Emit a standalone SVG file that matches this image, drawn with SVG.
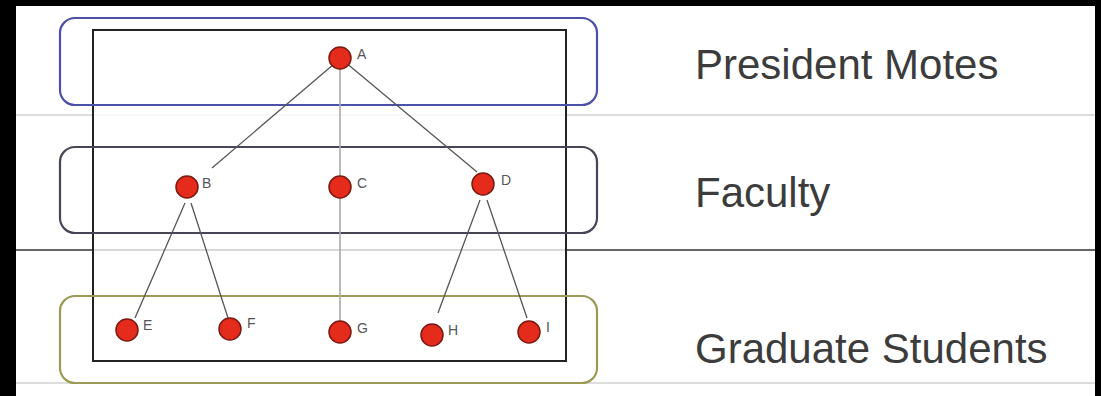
<svg xmlns="http://www.w3.org/2000/svg" width="1101" height="396" viewBox="0 0 1101 396">
<style>
.node{fill:#e52b1c;stroke:#7a1a12;stroke-width:1.5}
.lbl{font-family:"Liberation Sans",Arial,sans-serif;font-size:14px;fill:#555}
.title{font-family:"Liberation Sans",Arial,sans-serif;font-size:42px;fill:#3c3c3c}
.edge{stroke:#555;stroke-width:1.3;fill:none}
.vedge{stroke:#aaa;stroke-width:1.6;fill:none}
.band{fill:none;stroke-width:2.2}
</style>
<rect x="0" y="0" width="1101" height="396" fill="#000"/>
<rect x="16" y="6" width="1079" height="390" fill="#fff"/>
<g id="dividers">
<line x1="16" y1="115" x2="1095" y2="115" stroke="#ddd" stroke-width="2"/>
<line x1="16" y1="250" x2="1095" y2="250" stroke="#666" stroke-width="2"/>
<line x1="16" y1="383" x2="1095" y2="383" stroke="#ddd" stroke-width="2"/>
</g>
<rect id="frame" x="93" y="30" width="473" height="331" fill="#fff" fill-opacity="0.75" stroke="#222" stroke-width="2"/>
<g id="band-president"><rect class="band" x="60" y="18" width="537" height="87" rx="15" stroke="#4b50a8"/></g>
<g id="band-faculty"><rect class="band" x="60" y="147" width="537" height="86" rx="15" stroke="#4a4458"/></g>
<g id="band-students"><rect class="band" x="60" y="296" width="537" height="87" rx="15" stroke="#9c9a55"/></g>
<g id="connectors">
<line class="edge" x1="334" y1="64" x2="212" y2="168"/>
<line class="edge" x1="345" y1="62" x2="477" y2="172"/>
<line class="vedge" x1="340" y1="58" x2="340" y2="187"/>
<line class="vedge" x1="340" y1="187" x2="340" y2="331"/>
<line class="edge" x1="185" y1="203" x2="135" y2="318"/>
<line class="edge" x1="191" y1="203" x2="228" y2="318"/>
<line class="edge" x1="480" y1="200" x2="438" y2="313"/>
<line class="edge" x1="487" y1="200" x2="527" y2="318"/>
</g>
<g id="node-A"><circle class="node" cx="340" cy="58" r="11"/><text class="lbl" x="357" y="59">A</text></g>
<g id="node-B"><circle class="node" cx="187" cy="187" r="11"/><text class="lbl" x="202" y="188">B</text></g>
<g id="node-C"><circle class="node" cx="340" cy="187" r="11"/><text class="lbl" x="357" y="188">C</text></g>
<g id="node-D"><circle class="node" cx="483" cy="184" r="11"/><text class="lbl" x="501" y="185">D</text></g>
<g id="node-E"><circle class="node" cx="127" cy="330" r="11"/><text class="lbl" x="143" y="330">E</text></g>
<g id="node-F"><circle class="node" cx="230" cy="329" r="11"/><text class="lbl" x="247" y="328">F</text></g>
<g id="node-G"><circle class="node" cx="340" cy="332" r="11"/><text class="lbl" x="357" y="333">G</text></g>
<g id="node-H"><circle class="node" cx="432" cy="335" r="11"/><text class="lbl" x="448" y="335">H</text></g>
<g id="node-I"><circle class="node" cx="529" cy="332" r="11"/><text class="lbl" x="546" y="332">I</text></g>
<g id="titles">
<text class="title" x="695" y="79">President Motes</text>
<text class="title" x="695" y="207">Faculty</text>
<text class="title" x="695" y="363">Graduate Students</text>
</g>
</svg>
